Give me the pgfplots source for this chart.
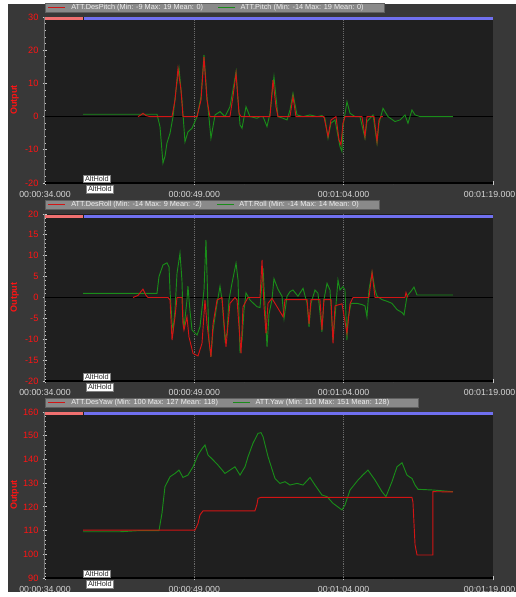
\documentclass[border=0pt]{standalone}
\usepackage{fontspec}
\setmainfont{Liberation Sans}
\usepackage{pgfplots}
\pgfplotsset{compat=1.18}
\definecolor{outerbg}{RGB}{56,56,56}
\definecolor{plotbg}{RGB}{31,31,31}
\definecolor{desred}{RGB}{210,20,20}
\definecolor{actgreen}{RGB}{25,140,25}
\definecolor{modered}{RGB}{240,112,112}
\definecolor{modeblue}{RGB}{112,112,240}
\definecolor{tickgray}{RGB}{200,200,200}
\definecolor{ticklabelgray}{RGB}{215,215,215}
\definecolor{labelred}{RGB}{255,20,20}
\definecolor{ylinegray}{RGB}{120,120,120}
\definecolor{gridgray}{RGB}{105,105,105}
\definecolor{legfill}{RGB}{138,138,138}
\definecolor{legdraw}{RGB}{95,95,95}
\definecolor{legtext}{RGB}{240,240,240}
\pgfplotsset{
  mp/.style={
    scale only axis, width=336pt,
    xmin=34, xmax=79,
    axis background/.style={fill=plotbg},
    axis lines=left, axis line style={-},
    x axis line style={draw=black, line width=1.2pt},
    y axis line style={draw=ylinegray, line width=0.75pt},
    xtick={34,49,64,79},
    xticklabels={00:00:34.000,00:00:49.000,00:01:04.000,{\makebox[0pt]{\hspace*{-5pt}00:01:19.000}}},
    minor xtick={39,54,69},
    extra x ticks={49,64}, extra x tick labels={},
    extra x tick style={grid=major, major tick length=0pt},
    major grid style={densely dotted, gridgray, line width=0.5pt},
    tick style={tickgray, line width=0.6pt},
    major tick length=3.5pt, minor tick length=2pt, tick align=center,
    minor y tick num=4,
    /pgf/number format/assume math mode=true,
    xticklabel style={text=ticklabelgray, font=\fontsize{6.6}{7}\selectfont, anchor=north, inner sep=0pt, yshift=-4pt},
    yticklabel style={text=labelred, font=\fontsize{6.9}{7}\selectfont, anchor=east, inner sep=0pt, xshift=-3pt},
    ylabel={\bfseries Output},
    ylabel style={at={(axis description cs:-0.068,0.5)}, anchor=center, text=labelred, font=\fontsize{6.8}{7}\selectfont},
    every axis plot/.append style={line width=0.7pt},
  }
}
\begin{document}
\begin{tikzpicture}
\fill[white] (0,0) rectangle (387pt,447.75pt);
\fill[outerbg] (6pt,3.75pt) rectangle (387pt,444.75pt);

% ---------- Panel 1: Pitch ----------
\begin{axis}[mp, at={(33.75pt,310.5pt)}, anchor=south west, height=124.5pt,
  ymin=-20, ymax=30, ytick={-20,-10,...,30}]
\addplot[modered, line width=2.25pt] coordinates {(34,29.4) (37.8,29.4)};
\addplot[modeblue, line width=2.25pt] coordinates {(37.9,29.4) (79,29.4)};
\addplot[black, line width=0.75pt] coordinates {(34,0) (79,0)};
\addplot[actgreen] coordinates {(37.82,0.7)(45.25,0.7)(45.55,-3)(45.85,-14)(46.05,-12)(46.25,-8)(46.56,-5)(46.86,0)(47.16,8)(47.46,14.6)(47.76,5)(48.06,-7.6)(48.36,-4.6)(48.77,-3.5)(49.27,0)(49.67,6)(49.97,18.6)(50.27,6)(50.67,-6.5)(51.08,0.5)(51.58,1.5)(52.08,0)(52.58,3)(52.88,8)(53.19,13.5)(53.39,5)(53.59,-2.5)(53.79,-3.5)(54.19,3)(54.59,0)(55.29,-0.5)(55.60,0)(55.90,0)(56.30,-3)(56.60,1)(57.00,12)(57.40,0)(57.91,-0.5)(58.31,-1)(58.61,2)(58.91,7)(59.31,0.5)(59.92,0)(60.62,0.5)(61.32,0)(61.82,0.3)(62.12,-0.5)(62.43,-6.5)(62.73,-2)(63.13,-1)(63.63,-9)(63.83,-10.5)(63.93,-3)(64.33,4.5)(64.64,1)(65.14,0)(65.64,0)(66.14,-6.5)(66.34,-1.5)(66.95,0.5)(67.35,-8)(67.55,-2)(67.95,2.5)(68.45,0)(69.16,-1.5)(69.66,-1)(70.16,0.5)(70.46,-2)(70.86,2)(71.17,0.5)(71.67,0)(74.98,0)};
\addplot[desred] coordinates {(43.34,0)(43.64,0.5)(43.84,1)(44.15,0.3)(44.55,0)(46.76,0)(47.06,5)(47.36,14.5)(47.66,8)(47.86,0)(49.27,0)(49.67,5)(49.97,18)(50.27,5)(50.57,0)(52.58,0)(52.88,6)(53.19,13)(53.49,1)(53.69,0)(56.60,0)(56.90,11)(57.20,3)(57.40,0)(58.61,0)(58.91,6)(59.21,0)(62.02,0)(62.43,-6)(62.73,-1)(63.23,0)(63.53,-7)(63.73,-8.5)(63.93,-2)(64.13,0)(65.84,0)(66.14,-6)(66.34,0)(67.05,0)(67.35,-7.5)(67.55,-1)(67.75,0)(67.95,0)};
\end{axis}

% ---------- Panel 2: Roll ----------
\begin{axis}[mp, at={(33.75pt,162pt)}, anchor=south west, height=125.25pt,
  ymin=-20, ymax=20, ytick={-20,-15,...,20}]
\addplot[modered, line width=2.25pt] coordinates {(34,19.52) (37.8,19.52)};
\addplot[modeblue, line width=2.25pt] coordinates {(37.9,19.52) (79,19.52)};
\addplot[black, line width=0.75pt] coordinates {(34,0) (79,0)};
\addplot[actgreen] coordinates {(37.82,1)(45.25,1)(45.45,5)(45.85,7.8)(46.25,8.3)(46.46,7.3)(46.56,1.5)(46.76,-6)(46.86,-7.8)(47.06,-3)(47.26,5.8)(47.56,10.6)(47.76,4)(47.86,-4.7)(47.96,-7.4)(48.26,-0.6)(48.36,2.7)(48.56,-3.1)(48.77,-7.8)(49.27,-9)(49.57,-7)(49.97,1.8)(50.17,13.8)(50.27,5.8)(50.47,-10.2)(50.67,-14.2)(50.88,-7.8)(51.28,-1.5)(51.58,2.7)(51.78,-0.6)(52.08,-10.2)(52.28,-8.6)(52.48,-0.6)(52.78,3.4)(53.19,8.2)(53.39,4.2)(53.59,-13.3)(53.79,-10.2)(53.99,-3)(54.19,1.1)(54.59,-0.6)(55.29,-2.2)(55.60,-2.4)(55.90,7)(56.10,-2)(56.30,-11.8)(56.50,-4)(56.80,-0.5)(57.00,4.5)(57.40,2)(57.81,0.3)(58.01,-5)(58.31,0.3)(58.61,1.4)(58.91,1.8)(59.41,0.3)(59.92,2.2)(60.32,-1.4)(60.52,-7)(60.72,-1.4)(61.12,1.8)(61.42,1)(61.82,-8.2)(62.02,-0.5)(62.33,3.4)(62.63,1.8)(62.93,-10.2)(63.13,-4.6)(63.43,4.2)(63.63,1.8)(63.93,2.6)(64.13,1.8)(64.33,-10.2)(64.44,-5)(64.74,-1.4)(65.34,-1.4)(65.84,-1.7)(66.14,-2)(66.34,-4.6)(66.54,1.8)(66.85,6.1)(67.15,1.8)(67.35,0.3)(67.85,-0.5)(68.35,-0.9)(68.85,-1.4)(69.36,-2.9)(69.86,-3.6)(70.06,-4.2)(70.36,0.3)(70.86,1.8)(71.06,2.5)(71.37,0.6)(71.97,0.6)(74.98,0.6)};
\addplot[desred] coordinates {(42.84,0)(43.34,0.5)(43.84,2)(44.15,0.5)(44.35,0)(46.36,0)(46.56,-0.6)(46.76,-10.2)(47.06,-4.6)(47.26,0)(47.76,0)(47.86,-6.3)(47.96,-7.8)(48.26,-4.6)(48.46,-9.4)(48.87,-13.4)(49.37,-14)(49.77,-11)(50.07,-0.6)(50.27,-6.3)(50.67,-14.2)(50.88,-6.3)(51.28,-0.6)(51.78,0)(52.18,-11.8)(52.58,-1.4)(53.08,0)(53.29,-0.6)(53.69,-13.4)(53.89,-2.2)(54.39,0)(55.60,0)(55.80,9)(56.00,-2.2)(56.20,-8.6)(56.40,-1.4)(56.80,-0.2)(57.91,-4.6)(58.11,-0.5)(60.32,-0.5)(60.52,-6.3)(60.72,-0.5)(61.62,-0.5)(61.82,-7.8)(62.02,-0.5)(62.73,-0.5)(62.93,-11)(63.13,-2)(63.83,-1.5)(64.33,-8.6)(64.64,-1.5)(64.94,0)(66.54,0)(66.85,6)(67.15,0)(70.16,0)(70.26,1.2)(70.36,0.5)(70.46,0)};
\end{axis}

% ---------- Panel 3: Yaw ----------
\begin{axis}[mp, at={(33.75pt,14.25pt)}, anchor=south west, height=124.5pt,
  ymin=90, ymax=160, ytick={90,100,...,160}]
\addplot[modered, line width=2.25pt] coordinates {(34,159.16) (37.8,159.16)};
\addplot[modeblue, line width=2.25pt] coordinates {(37.9,159.16) (79,159.16)};
\addplot[actgreen] coordinates {(37.82,109.5)(41.53,109.5)(43.54,110)(45.45,110)(45.75,117.3)(46.05,128.5)(46.56,132.7)(47.06,134.1)(47.46,135.5)(47.86,132.4)(48.36,133.4)(48.87,136.9)(49.37,141.9)(49.77,144.5)(50.07,146.1)(50.37,141.9)(50.88,139.8)(51.38,137.6)(52.08,134.1)(52.58,135.5)(53.08,136.9)(53.59,133.4)(54.09,136.9)(54.39,141.1)(54.89,146.8)(55.40,151)(55.70,151.3)(55.90,149.6)(56.40,141.2)(57.10,132)(57.60,129.9)(58.11,130.6)(58.61,129.2)(59.31,129.9)(59.92,129.2)(60.62,132.4)(61.12,129.2)(61.82,125)(62.33,124.3)(62.93,121.5)(63.83,118.7)(64.13,120.8)(64.64,127.1)(65.44,131.3)(65.94,133.5)(66.44,135.5)(67.15,131.3)(67.85,126.4)(68.25,124.3)(68.85,130.6)(69.36,136.9)(69.86,138.6)(70.36,133.4)(70.66,132.5)(70.86,132)(71.17,129.2)(71.47,127.4)(72.97,127.1)(74.98,126.4)};
\addplot[desred] coordinates {(37.82,110.2)(49.07,110.2)(49.37,113)(49.57,116.6)(49.87,118.3)(55.09,118.3)(55.29,121)(55.40,123.6)(55.70,124)(70.86,124)(70.96,122)(71.17,104)(71.37,99.7)(72.97,99.7)(72.97,126.4)(74.98,126.3)};
\end{axis}

% ---------- legends and mode labels (pixel coordinates) ----------
\begin{scope}[x=0.75pt, y=-0.75pt, shift={(0pt,447.75pt)}]
\foreach \top/\right/\ta/\tb in {
  17/384/{ATT.DesPitch (Min: -9 Max: 19 Mean: 0)}/{ATT.Pitch (Min: -14 Max: 19 Mean: 0)},
  214/379/{ATT.DesRoll (Min: -14 Max: 9 Mean: -2)}/{ATT.Roll (Min: -14 Max: 14 Mean: 0)},
  412/418/{ATT.DesYaw (Min: 100 Max: 127 Mean: 118)}/{ATT.Yaw (Min: 110 Max: 151 Mean: 128)}}{
  \fill[legfill, draw=legdraw, line width=0.6pt] (45,\top-13.5) rectangle (\right,\top-5);
  \draw[desred, line width=0.7pt] (48,\top-9.25) -- (65,\top-9.25);
  \node[anchor=west, inner sep=0pt, text=legtext, font=\fontsize{5.5}{6}\selectfont] (ta) at (71,\top-9.25) {\ta};
  \draw[actgreen, line width=0.7pt] ([xshift=11.25pt]ta.east) -- ++(17,0) coordinate (ge);
  \node[anchor=west, inner sep=0pt, text=legtext, font=\fontsize{5.5}{6}\selectfont] at ([xshift=3.75pt]ge) {\tb};
}
\foreach \bot in {183,381,578}{
  \node[anchor=south west, fill=white, draw=gray, line width=0.4pt, inner xsep=1.3pt, inner ysep=0.9pt, text=black!85, font=\fontsize{5.5}{6}\selectfont] at (83,\bot) {AltHold};
  \node[anchor=north west, fill=white, draw=gray, line width=0.4pt, inner xsep=1.3pt, inner ysep=0.9pt, text=black!85, font=\fontsize{5.5}{6}\selectfont] at (86,\bot+2) {AltHold};
}
\end{scope}
\pgfresetboundingbox
\path[use as bounding box] (0,0) rectangle (387pt,447.75pt);
\end{tikzpicture}
\end{document}
